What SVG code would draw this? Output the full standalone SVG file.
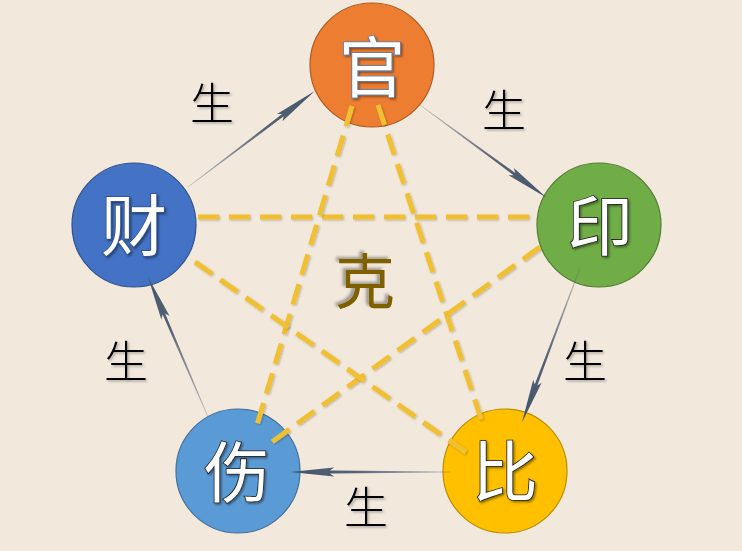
<svg xmlns="http://www.w3.org/2000/svg" width="742" height="551" viewBox="0 0 742 551">
<defs>
<style>
.node circle{stroke-width:1.2}
.nt{font-family:"Noto Sans CJK SC","Noto Sans",sans-serif;font-size:66px;fill:#fff;stroke-width:1.6;paint-order:stroke;text-anchor:middle;filter:url(#tsh)}
.sheng{font-family:"Noto Sans CJK SC",serif;font-size:44px;font-weight:300;fill:#000;text-anchor:middle;filter:url(#lsh)}
.ke{font-family:"Noto Sans CJK SC",serif;font-size:60px;fill:#7F6000;text-anchor:middle;filter:url(#ksh)}
.dash{stroke:#F0C030;stroke-width:5;stroke-dasharray:21 10;fill:none;filter:url(#dsh)}
.arr{fill:url(#ag)}
</style>
<linearGradient id="ag" gradientUnits="userSpaceOnUse" x1="0" y1="0" x2="160" y2="0">
<stop offset="0" stop-color="#44546A" stop-opacity="0.25"/>
<stop offset="0.6" stop-color="#44546A" stop-opacity="0.9"/>
<stop offset="1" stop-color="#44546A"/>
</linearGradient>
<filter id="tsh" x="-20%" y="-20%" width="140%" height="140%"><feDropShadow dx="1.5" dy="1.5" stdDeviation="1" flood-color="#000" flood-opacity="0.45"/></filter>
<filter id="lsh" x="-20%" y="-20%" width="140%" height="140%"><feDropShadow dx="1.5" dy="1.5" stdDeviation="1" flood-color="#000" flood-opacity="0.3"/></filter>
<filter id="ksh" x="-20%" y="-20%" width="140%" height="140%"><feDropShadow dx="-3" dy="-2" stdDeviation="1.5" flood-color="#000" flood-opacity="0.35"/></filter>
<filter id="dsh" filterUnits="userSpaceOnUse" x="0" y="0" width="742" height="551"><feDropShadow dx="1" dy="1" stdDeviation="1" flood-color="#000" flood-opacity="0.25"/></filter>
</defs>
<rect width="742" height="551" fill="#F2E8DC"/>
<g id="node-guan" class="node"><circle cx="372" cy="65" r="62" fill="#ED7D31" stroke="#AE5A21"/><text class="nt" x="372" y="92" stroke="#4F81BD">官</text></g>
<g id="node-yin" class="node"><circle cx="599" cy="225" r="62" fill="#70AD47" stroke="#507E32"/><text class="nt" x="600" y="250" stroke="#222">印</text></g>
<g id="node-bi" class="node"><circle cx="505" cy="471" r="62" fill="#FFC000" stroke="#BC8C00"/><text class="nt" x="505" y="496" stroke="#222">比</text></g>
<g id="node-shang" class="node"><circle cx="238" cy="471" r="62" fill="#5B9BD5" stroke="#41719C"/><text class="nt" x="237" y="497" stroke="#222">伤</text></g>
<g id="node-cai" class="node"><circle cx="134" cy="225" r="62" fill="#4472C4" stroke="#2F528F"/><text class="nt" x="134" y="250" stroke="#2F528F">财</text></g>
<g id="connectors">
<g id="ke-lines">
<line class="dash" x1="198" y1="217" x2="532" y2="217"/>
<line class="dash" x1="378" y1="105" x2="483" y2="425"/>
<line class="dash" x1="352" y1="106" x2="257" y2="425"/>
<line class="dash" x1="540" y1="247" x2="272" y2="442"/>
<line class="dash" x1="195" y1="262" x2="467" y2="453"/>
</g>
<g id="sheng-arrows">
<path class="arr" transform="translate(188,187) rotate(-37.1)" d="M0,-0.4 L119,-1.4 L115,-4.5 L159,0 L115,4.5 L119,1.4 L0,0.4 Z"/>
<path class="arr" transform="translate(420,105) rotate(36.2)" d="M0,-0.4 L117,-1.4 L113,-4.5 L157,0 L113,4.5 L117,1.4 L0,0.4 Z"/>
<path class="arr" transform="translate(580,268) rotate(110.6)" d="M0,-0.4 L125,-1.4 L121,-4.5 L165,0 L121,4.5 L125,1.4 L0,0.4 Z"/>
<path class="arr" transform="translate(450,472) rotate(180)" d="M0,-0.4 L120,-1.4 L116,-4.5 L160,0 L116,4.5 L120,1.4 L0,0.4 Z"/>
<path class="arr" transform="translate(208,417) rotate(-113.2)" d="M0,-0.4 L112,-1.4 L108,-4.5 L152,0 L108,4.5 L112,1.4 L0,0.4 Z"/>
</g>
</g>
<g id="labels">
<text class="sheng" x="212" y="120">生</text>
<text class="sheng" x="504" y="127">生</text>
<text class="sheng" x="585" y="378">生</text>
<text class="sheng" x="366" y="524">生</text>
<text class="sheng" x="126" y="378">生</text>
<text class="ke" x="365" y="304">克</text>
</g>
</svg>
